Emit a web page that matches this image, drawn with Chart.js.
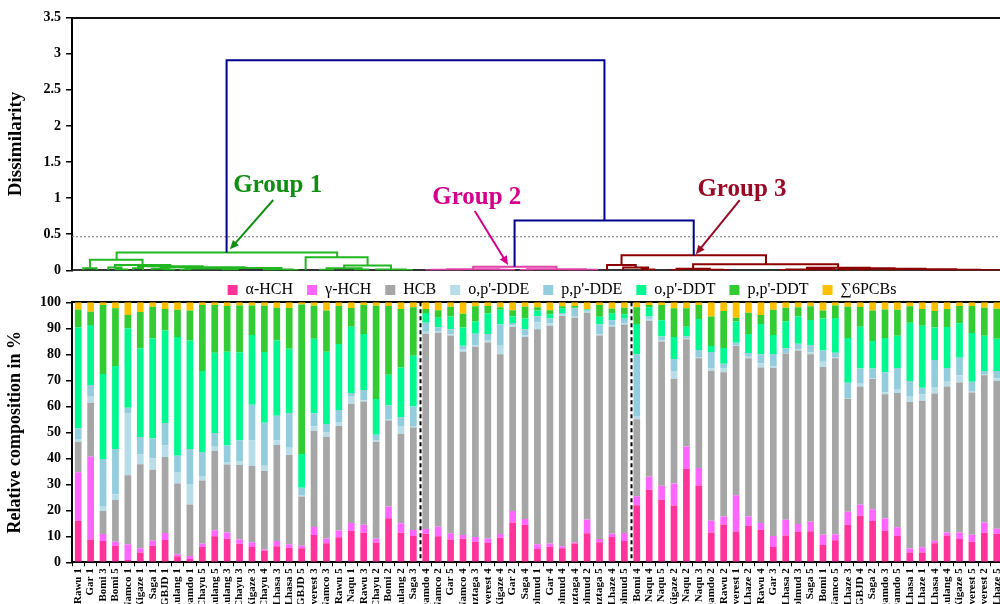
<!DOCTYPE html>
<html>
<head>
<meta charset="utf-8">
<script src="https://cdn.jsdelivr.net/npm/chart.js@4.4.1/dist/chart.umd.min.js"></script>
<style>
  html, body { margin: 0; padding: 0; background: #fff; overflow: hidden; width: 1000px; height: 604px; }
  #dendro { position: absolute; left: 0; top: 0; }
  #comp { position: absolute; left: 0; top: 260px; }
</style>
</head>
<body>
<canvas id="dendro" width="1012" height="290"></canvas>
<canvas id="comp" width="1012" height="400"></canvas>
<script>
// ---- Sampling sites, in dendrogram leaf order ----
const sites = [
  "Rawu 1","Gar 1","Bomi 3","Bomi 5","Namco 1","Xigaze 1","Saga 1","GBJD 1","Lulang 1","Qamdo 1",
  "Chayu 5","Lulang 5","Lulang 3","Chayu 3","Xigaze 3","Chayu 4","Lhasa 3","Lhasa 5","GBJD 5","Everest 3",
  "Namco 3","Rawu 5","Naqu 1","Rawu 3","Chayu 2","Bomi 2","Lulang 2","Saga 3",
  "Qamdo 4","Namco 2","Gar 5","Namco 4","Muztaga 3","Everest 4","Xigaze 4","Gar 2","Saga 4","Golmud 1",
  "Gar 4","Golmud 4","Muztaga 4","Golmud 2","Muztaga 5","Lhaze 4","Golmud 5",
  "Bomi 4","Naqu 4","Naqu 5","Xigaze 2","Naqu 2","Naqu 3","Qamdo 2","Rawu 2","Everest 1","Lhaze 2",
  "Rawu 4","Gar 3","Lhasa 2","Golmud 3","Saga 5","Bomi 1","Namco 5","Lhaze 3","GBJD 4","Saga 2",
  "Qamdo 3","Qamdo 5","Lhasa 1","Lhaze 1","Lhasa 4","Lulang 4","Xigaze 5","Everest 5","Everest 2","Lhaze 5"
];

// ---- Relative composition (%) of each compound per site ----
const alphaHCH = [16.0,8.8,8.2,6.3,0.9,3.8,6.4,8.6,2.3,1.3,6.0,10.0,9.1,7.1,5.9,4.4,6.2,5.6,5.4,10.5,7.3,9.6,12.1,11.4,7.6,16.9,11.4,10.1,
  11.0,10.0,8.8,9.1,7.9,7.6,9.4,15.3,14.4,5.1,6.0,5.4,7.2,11.2,7.7,9.7,8.2,
  21.9,27.9,24.1,21.8,36.0,29.5,11.5,14.5,11.8,14.1,12.4,5.9,10.3,11.8,11.9,6.7,8.5,14.4,17.9,15.9,12.1,10.1,3.8,3.8,7.3,10.3,9.0,7.9,11.4,11.0];
const gammaHCH = [18.6,31.8,2.7,1.6,6.0,1.6,1.9,2.7,0.8,1.1,1.2,2.3,2.4,1.7,1.8,0.5,2.0,1.3,1.0,3.1,1.9,2.6,3.0,3.0,1.6,4.6,3.6,2.3,
  1.8,3.7,2.4,1.4,1.8,1.6,1.5,4.4,2.3,1.8,1.2,0.8,0.5,5.3,1.3,1.3,3.1,
  3.5,5.0,5.3,8.5,8.5,6.8,4.5,3.1,14.0,3.5,2.7,4.2,6.1,2.9,3.7,3.9,2.3,5.0,4.2,4.5,4.7,3.4,1.5,2.0,1.0,1.2,2.5,2.7,3.9,1.9];
const hcb = [11.8,20.8,8.8,16.1,26.6,32.3,27.3,29.2,27.2,19.8,24.3,30.6,26.1,28.6,29.4,30.2,36.9,34.4,18.9,37.0,39.0,40.2,45.9,47.4,37.2,33.0,34.4,39.4,
  75.1,74.6,76.0,70.5,73.2,75.3,69.1,70.8,70.0,82.7,83.8,88.5,86.4,79.5,78.2,79.6,80.2,
  29.6,60.0,55.5,40.3,41.3,42.2,57.7,55.5,57.4,60.9,59.8,64.6,63.9,66.8,64.4,64.5,67.7,43.5,45.5,50.1,47.8,51.6,56.4,56.3,56.6,56.1,57.7,54.7,56.6,56.8];
const opDDE = [1.0,2.3,1.7,2.2,23.9,3.8,4.4,4.4,4.4,7.9,1.7,1.5,1.0,1.6,9.7,2.0,1.7,2.8,0.6,1.7,1.7,1.6,2.7,0.5,0.4,0.6,3.0,0.3,
  0.8,0.7,0.5,0.8,0.6,0.8,3.3,0.7,0.5,2.7,0.9,0.8,0.3,0.4,0.6,0.7,0.4,
  1.3,0.8,0.4,3.0,0.5,0.5,0.9,1.6,0.4,0.6,1.6,0.6,0.1,0.3,0.8,2.0,0.5,0.3,1.4,0.4,0.8,1.3,2.3,2.5,2.5,1.8,2.7,0.6,0.5,1.1];
const ppDDE = [4.1,4.5,18.3,17.4,2.0,6.7,7.6,8.7,6.3,13.5,9.2,5.3,6.3,7.9,13.8,16.6,9.6,13.3,2.8,5.0,3.3,4.6,1.4,4.0,2.3,5.2,3.5,7.8,
  3.4,1.4,1.9,1.5,4.4,2.5,8.2,0.8,2.4,2.3,1.9,0.4,3.3,0.5,3.7,1.8,1.8,
  23.7,0.8,1.5,4.6,0.6,2.7,6.3,1.7,0.8,1.4,3.5,4.8,1.9,2.3,2.8,4.4,1.6,5.9,5.5,3.6,7.7,8.3,5.7,2.5,10.4,5.3,6.8,3.5,1.2,2.8];
const opDDT = [38.8,23.1,32.7,31.9,30.5,34.0,38.6,35.6,45.7,41.8,31.2,30.9,36.1,33.9,26.8,27.2,28.9,24.7,13.0,28.7,27.8,25.4,25.5,21.5,13.7,11.8,19.0,19.5,
  3.8,3.7,4.9,7.0,4.7,8.0,5.6,2.6,4.2,2.2,1.6,1.8,0.2,0.3,2.9,2.7,1.7,
  11.7,3.6,6.3,8.5,3.7,11.9,2.3,6.0,8.2,7.3,11.7,7.3,10.4,10.4,9.6,12.3,13.4,17.2,16.1,10.6,13.2,12.4,22.4,23.9,12.5,15.8,13.2,18.8,13.5,12.4];
const ppDDT = [6.9,5.1,26.6,22.2,5.2,14.1,12.1,8.2,10.4,11.4,25.4,18.4,17.6,18.0,11.4,17.8,12.6,15.7,57.5,12.7,15.8,14.6,7.2,11.2,35.9,26.5,22.5,18.7,
  1.5,2.8,3.8,5.3,5.9,2.8,1.0,2.3,4.5,1.3,1.5,0.8,0.7,0.1,4.6,1.8,2.5,
  6.4,0.9,5.9,11.0,7.1,5.4,11.3,14.3,1.5,8.2,3.4,9.7,5.2,3.6,5.3,3.0,4.8,12.0,7.6,11.7,10.9,10.0,6.4,6.4,6.4,6.9,6.7,10.4,10.8,11.5];
const pcbs = [2.8,3.6,1.0,2.3,4.9,3.7,1.7,2.6,2.9,3.2,1.0,1.0,1.4,1.2,1.2,1.3,2.1,2.2,0.8,1.3,3.2,1.4,2.2,1.0,1.3,1.4,2.6,1.9,
  2.6,3.1,1.7,4.4,1.5,1.4,1.9,3.1,1.7,1.9,3.1,1.5,1.4,2.7,1.0,2.4,2.1,
  1.9,1.0,1.0,2.3,2.3,1.0,5.5,3.3,5.9,4.0,4.9,2.9,2.1,1.9,1.5,3.2,1.2,1.7,1.8,3.2,2.8,2.9,1.5,2.6,3.3,2.6,1.4,1.4,2.1,2.5];

const compounds = ["α-HCH", "γ-HCH", "HCB", "o,p'-DDE", "p,p'-DDE", "o,p'-DDT", "p,p'-DDT", "∑6PCBs"];

// ---- Dendrogram links: [left x, right x, merge dissimilarity, left child height, right child height]
// x is in leaf-position units shared with the bar axis
const rootLinks = [
  [11.90, 42.21, 2.91, 0.245, 0.69],
  [35.00, 49.37, 0.69, 0.05, 0.21]
];
const group1Links = [
  [3.08, 20.77, 0.245, 0.147, 0.18],
  [0.94, 5.16, 0.147, 0.027, 0.073],
  [0.40, 1.48, 0.027, 0, 0],
  [2.94, 7.39, 0.073, 0.040, 0.055],
  [2.41, 3.47, 0.040, 0, 0.012],
  [3.00, 3.94, 0.012, 0, 0],
  [4.80, 9.98, 0.055, 0.030, 0.042],
  [4.40, 5.20, 0.030, 0, 0],
  [6.60, 13.35, 0.042, 0.020, 0.032],
  [5.90, 7.30, 0.020, 0, 0.006],
  [6.90, 7.70, 0.006, 0, 0],
  [10.40, 16.30, 0.032, 0.024, 0.012],
  [8.60, 12.20, 0.024, 0.008, 0.010],
  [8.20, 9.00, 0.008, 0, 0],
  [11.60, 12.80, 0.010, 0, 0],
  [15.40, 17.20, 0.012, 0.005, 0.004],
  [14.90, 15.90, 0.005, 0, 0],
  [16.80, 17.60, 0.004, 0, 0],
  [18.24, 23.21, 0.18, 0, 0.065],
  [21.33, 25.09, 0.065, 0.030, 0.010],
  [19.92, 22.73, 0.030, 0.006, 0.012],
  [19.40, 20.44, 0.006, 0, 0],
  [22.20, 23.26, 0.012, 0, 0],
  [23.90, 26.28, 0.010, 0, 0.004],
  [25.80, 26.76, 0.004, 0, 0]
];
const group2Links = [
  [31.68, 38.36, 0.050, 0.016, 0.014],
  [29.60, 33.76, 0.016, 0.006, 0.008],
  [28.40, 30.80, 0.006, 0.002, 0],
  [27.90, 28.90, 0.002, 0, 0],
  [33.10, 34.42, 0.008, 0, 0.003],
  [33.90, 34.94, 0.003, 0, 0],
  [36.00, 40.72, 0.014, 0.005, 0.006],
  [35.50, 36.50, 0.005, 0, 0],
  [39.80, 41.64, 0.006, 0.002, 0],
  [39.30, 40.30, 0.002, 0, 0]
];
const group3Links = [
  [43.58, 55.17, 0.21, 0.073, 0.083],
  [42.42, 44.72, 0.073, 0, 0.040],
  [43.71, 45.71, 0.040, 0, 0.010],
  [45.20, 46.22, 0.010, 0, 0],
  [49.32, 60.95, 0.083, 0.020, 0.036],
  [47.99, 50.66, 0.020, 0.005, 0.008],
  [47.50, 48.48, 0.005, 0, 0],
  [49.60, 51.72, 0.008, 0, 0.004],
  [51.20, 52.24, 0.004, 0, 0],
  [58.46, 63.49, 0.036, 0.012, 0.030],
  [56.80, 60.12, 0.012, 0.004, 0.006],
  [56.30, 57.30, 0.004, 0, 0],
  [59.60, 60.64, 0.006, 0, 0],
  [61.50, 65.48, 0.030, 0.008, 0.022],
  [61.00, 62.00, 0.008, 0, 0],
  [63.00, 67.96, 0.022, 0.010, 0.015],
  [62.50, 63.50, 0.010, 0, 0],
  [65.50, 70.42, 0.015, 0.006, 0.008],
  [65.00, 66.00, 0.006, 0, 0],
  [68.50, 72.34, 0.008, 0.003, 0.004],
  [68.00, 69.00, 0.003, 0, 0],
  [71.00, 73.68, 0.004, 0, 0.002],
  [73.20, 74.16, 0.002, 0, 0]
];
const cutLevel = 0.465;          // truncation level separating the three groups
const groupBreaks = [27.5, 44.5]; // boundaries between group 1 | 2 | 3 in the bar panel

// ---- Styling ----
const SERIF = '"Liberation Serif", "Times New Roman", serif';
const compoundColors = ['#FF3399', '#FF66FF', '#A6A6A6', '#B7DEE8', '#93CDDD', '#00F890', '#33CC33', '#FFC000'];
const groupNoteStyle = [
  { text: 'Group 1', color: '#0F8F0F', at: [16.0, 1.085], from: [15.64, 0.974], to: [12.17, 0.291] },
  { text: 'Group 2', color: '#D4008C', at: [31.97, 0.92], from: [31.81, 0.821], to: [34.48, 0.073] },
  { text: 'Group 3', color: '#9A0A26', at: [53.24, 1.036], from: [53.06, 0.974], to: [49.54, 0.222] }
];

Chart.defaults.font.family = SERIF;
Chart.defaults.color = '#000';

function linkPath(links) {
  const pts = [];
  links.forEach(([xl, xr, h, hl, hr]) => {
    pts.push({ x: xl, y: hl }, { x: xl, y: h }, { x: xr, y: h }, { x: xr, y: hr }, { x: xr, y: null });
  });
  return pts;
}

function lineSet(data, color, width, dash) {
  return { data, showLine: true, spanGaps: false, borderColor: color, borderWidth: width,
           borderDash: dash || [], pointRadius: 0, tension: 0, fill: false };
}

// Group labels with arrows pointing at each cluster node
const groupNotes = {
  id: 'groupNotes',
  afterDatasetsDraw(chart) {
    const { ctx, scales: { x, y } } = chart;
    ctx.save();
    groupNoteStyle.forEach(n => {
      ctx.fillStyle = n.color;
      ctx.strokeStyle = n.color;
      ctx.font = 'bold 25px ' + SERIF;
      ctx.textAlign = 'center';
      ctx.textBaseline = 'alphabetic';
      ctx.fillText(n.text, x.getPixelForValue(n.at[0]), y.getPixelForValue(n.at[1]));
      const x1 = x.getPixelForValue(n.from[0]), y1 = y.getPixelForValue(n.from[1]);
      const x2 = x.getPixelForValue(n.to[0]), y2 = y.getPixelForValue(n.to[1]);
      const ang = Math.atan2(y2 - y1, x2 - x1);
      const head = 9, half = 4;
      ctx.lineWidth = 2;
      ctx.beginPath();
      ctx.moveTo(x1, y1);
      ctx.lineTo(x2 - Math.cos(ang) * head * 0.8, y2 - Math.sin(ang) * head * 0.8);
      ctx.stroke();
      ctx.beginPath();
      ctx.moveTo(x2, y2);
      ctx.lineTo(x2 - Math.cos(ang) * head - Math.sin(ang) * half, y2 - Math.sin(ang) * head + Math.cos(ang) * half);
      ctx.lineTo(x2 - Math.cos(ang) * head + Math.sin(ang) * half, y2 - Math.sin(ang) * head - Math.cos(ang) * half);
      ctx.closePath();
      ctx.fill();
    });
    ctx.restore();
  }
};

// ---- Dendrogram panel ----
new Chart(document.getElementById('dendro'), {
  type: 'scatter',
  data: {
    datasets: [
      lineSet(linkPath(rootLinks), '#00008B', 2),
      lineSet(linkPath(group1Links), '#22B622', 2),
      lineSet(linkPath(group2Links), '#E040A8', 2),
      lineSet(linkPath(group3Links), '#8E0000', 2),
      lineSet([{ x: -0.5, y: cutLevel }, { x: 74.5, y: cutLevel }], '#7a7a7a', 1, [2, 2])
    ]
  },
  options: {
    responsive: false,
    animation: false,
    layout: { padding: { left: 5, right: 5, top: 0, bottom: 0 } },
    plugins: { legend: { display: false }, tooltip: { enabled: false } },
    scales: {
      x: {
        type: 'linear', min: -0.5, max: 74.5, position: 'bottom',
        ticks: { display: false },
        grid: { display: false, drawTicks: false },
        border: { display: true, color: '#333', width: 2 },
        afterFit(s) { s.height = 19.7; }
      },
      xTop: {
        type: 'linear', min: -0.5, max: 74.5, position: 'top',
        ticks: { display: false },
        grid: { display: false, drawTicks: false },
        border: { display: true, color: '#111', width: 2 },
        afterFit(s) { s.height = 17.7; }
      },
      y: {
        min: 0, max: 3.5,
        ticks: { stepSize: 0.5, padding: 5, color: '#000', font: { family: SERIF, size: 14, weight: 'bold' },
                 callback: v => String(v) },
        grid: { drawOnChartArea: false, drawTicks: true, tickLength: 6, color: '#000', lineWidth: 1.5 },
        border: { color: '#000', width: 2 },
        title: { display: true, text: 'Dissimilarity', color: '#000', padding: { top: 0, bottom: 0 },
                 font: { family: SERIF, size: 19, weight: 'bold' } },
        afterFit(s) { s.width = 67; }
      }
    }
  },
  plugins: [groupNotes]
});

// Dashed separators between the three groups
const groupSeparators = {
  id: 'groupSeparators',
  afterDatasetsDraw(chart) {
    const { ctx, chartArea, scales: { x } } = chart;
    ctx.save();
    ctx.strokeStyle = '#000';
    ctx.lineWidth = 2;
    ctx.setLineDash([4, 3]);
    groupBreaks.forEach(b => {
      const px = Math.round(x.getPixelForValue(b)) + 0.5;
      ctx.beginPath();
      ctx.moveTo(px, chartArea.top);
      ctx.lineTo(px, chartArea.bottom);
      ctx.stroke();
    });
    ctx.restore();
  }
};

// Legend placement inside the header band
const legendPlacement = {
  id: 'legendPlacement',
  afterLayout(chart) {
    const lg = chart.legend;
    const dx = 56, dy = 8;
    lg.left += dx; lg.right += dx;
    lg.top += dy; lg.bottom += dy;
  }
};

// ---- Composition panel ----
const seriesData = [alphaHCH, gammaHCH, hcb, opDDE, ppDDE, opDDT, ppDDT, pcbs];
new Chart(document.getElementById('comp'), {
  type: 'bar',
  data: {
    labels: sites,
    datasets: compounds.map((name, i) => ({
      label: name,
      data: seriesData[i],
      backgroundColor: compoundColors[i],
      borderWidth: 0,
      barPercentage: 0.54,
      categoryPercentage: 1.0
    }))
  },
  options: {
    responsive: false,
    animation: false,
    layout: { padding: { left: 5, right: 5, top: 0, bottom: 0 } },
    plugins: {
      tooltip: { enabled: false },
      legend: {
        display: true, position: 'top',
        labels: { boxWidth: 10, boxHeight: 10, padding: 14, color: '#000', font: { family: SERIF, size: 16 } }
      }
    },
    scales: {
      x: {
        stacked: true,
        ticks: { autoSkip: false, minRotation: 90, maxRotation: 90, padding: 2, color: '#000',
                 font: { family: SERIF, size: 11, weight: 'bold' } },
        grid: { offset: true, drawOnChartArea: false, drawTicks: true, tickLength: 4, color: '#000' },
        border: { color: '#000', width: 2 },
        afterFit(s) { s.height = 97.7; }
      },
      xTop: {
        type: 'category', position: 'top',
        ticks: { display: false },
        grid: { display: false, drawTicks: false },
        border: { display: true, color: '#000', width: 2 },
        afterFit(s) { s.height = 2.3; }
      },
      y: {
        stacked: true, min: 0, max: 100,
        ticks: { stepSize: 10, padding: 5, color: '#000', font: { family: SERIF, size: 14, weight: 'bold' } },
        grid: { drawOnChartArea: false, drawTicks: true, tickLength: 6, color: '#000', lineWidth: 1.5 },
        border: { color: '#000', width: 2 },
        title: { display: true, text: 'Relative composition in %', color: '#000', padding: { top: 0, bottom: 0 },
                 font: { family: SERIF, size: 18, weight: 'bold' } },
        afterFit(s) { s.width = 67; }
      }
    }
  },
  plugins: [groupSeparators, legendPlacement]
});
</script>
</body>
</html>
